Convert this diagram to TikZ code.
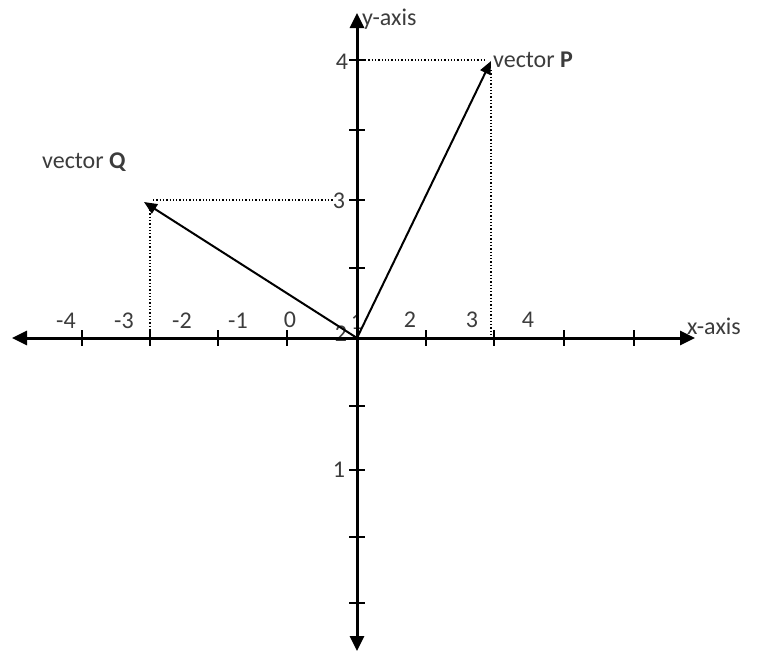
\documentclass[tikz,border=0pt]{standalone}
\usepackage{fontspec}
\setmainfont{Carlito}
\usetikzlibrary{arrows.meta}
\definecolor{txt}{RGB}{60,60,60}
\tikzset{
  lbl/.style={text=txt,font=\fontsize{24}{24}\selectfont,inner sep=0pt},
  axis/.style={line width=3pt,{Triangle[length=15pt,width=14pt]}-{Triangle[length=15pt,width=14pt]}},
  vec/.style={line width=2pt,-{Triangle[length=13pt,width=11pt]}},
  tick/.style={line width=2.6pt},
  proj/.style={line width=1.3pt,dotted}
}
\begin{document}
\begin{tikzpicture}[x=1pt,y=-1pt]
\useasboundingbox (0,0) rectangle (757,653);
% labels (drawn first so lines overlap them)
\node[lbl] (lm4) at (66,321) {-4};
\node[lbl] (lm3) at (124,321) {-3};
\node[lbl] (lm2) at (182,321) {-2};
\node[lbl] (lm1) at (238,321) {-1};
\node[lbl] (l0) at (290,320) {0};
\node[lbl] (l1o) at (357,322) {1};
\node[lbl] (l2o) at (341,334) {2};
\node[lbl] (l2) at (410,320) {2};
\node[lbl] (l3) at (472,320) {3};
\node[lbl] (l4) at (528,320) {4};
\node[lbl,anchor=west] (xlab) at (687,326) {x-axis};
\node[lbl,anchor=west] (ylab) at (362,19) {y-axis};
\node[lbl] (y4) at (342,62) {4};
\node[lbl] (y3) at (339,201) {3};
\node[lbl] (y1) at (339,470) {1};
\node[lbl,anchor=west] (pl) at (493,60) {vector \textbf{P}};
\node[lbl,anchor=west] (ql) at (42,162) {vector \textbf{Q}};
% coordinates
\coordinate (O) at (357,338);
\coordinate (xl) at (12,338);
\coordinate (xr) at (695,338);
\coordinate (yt) at (357,13);
\coordinate (yb) at (357,651);
\coordinate (P) at (491,61);
\coordinate (Q) at (144,202);
\coordinate (ph) at (365,60);
\coordinate (pv) at (491,338);
\coordinate (qh) at (333,200);
\coordinate (qv) at (150,338);
% dotted projections
\draw[proj] (ph) -- (487,60);
\draw[proj] (491,70) -- (pv);
\draw[proj] (153,200) -- (qh);
\draw[proj] (150,210) -- (qv);
% axes
\draw[axis] (xl) -- (xr);
\draw[axis] (yb) -- (yt);
% ticks
\foreach \t in {82,150,218,287,426,494,564,634}
  \draw[tick] (\t,330) -- (\t,346);
\foreach \t in {60,130,200,268,406,470,537,603}
  \draw[tick] (349,\t) -- (365,\t);
% vectors
\draw[vec] (O) -- (P);
\draw[vec] (O) -- (Q);
\end{tikzpicture}
\end{document}
